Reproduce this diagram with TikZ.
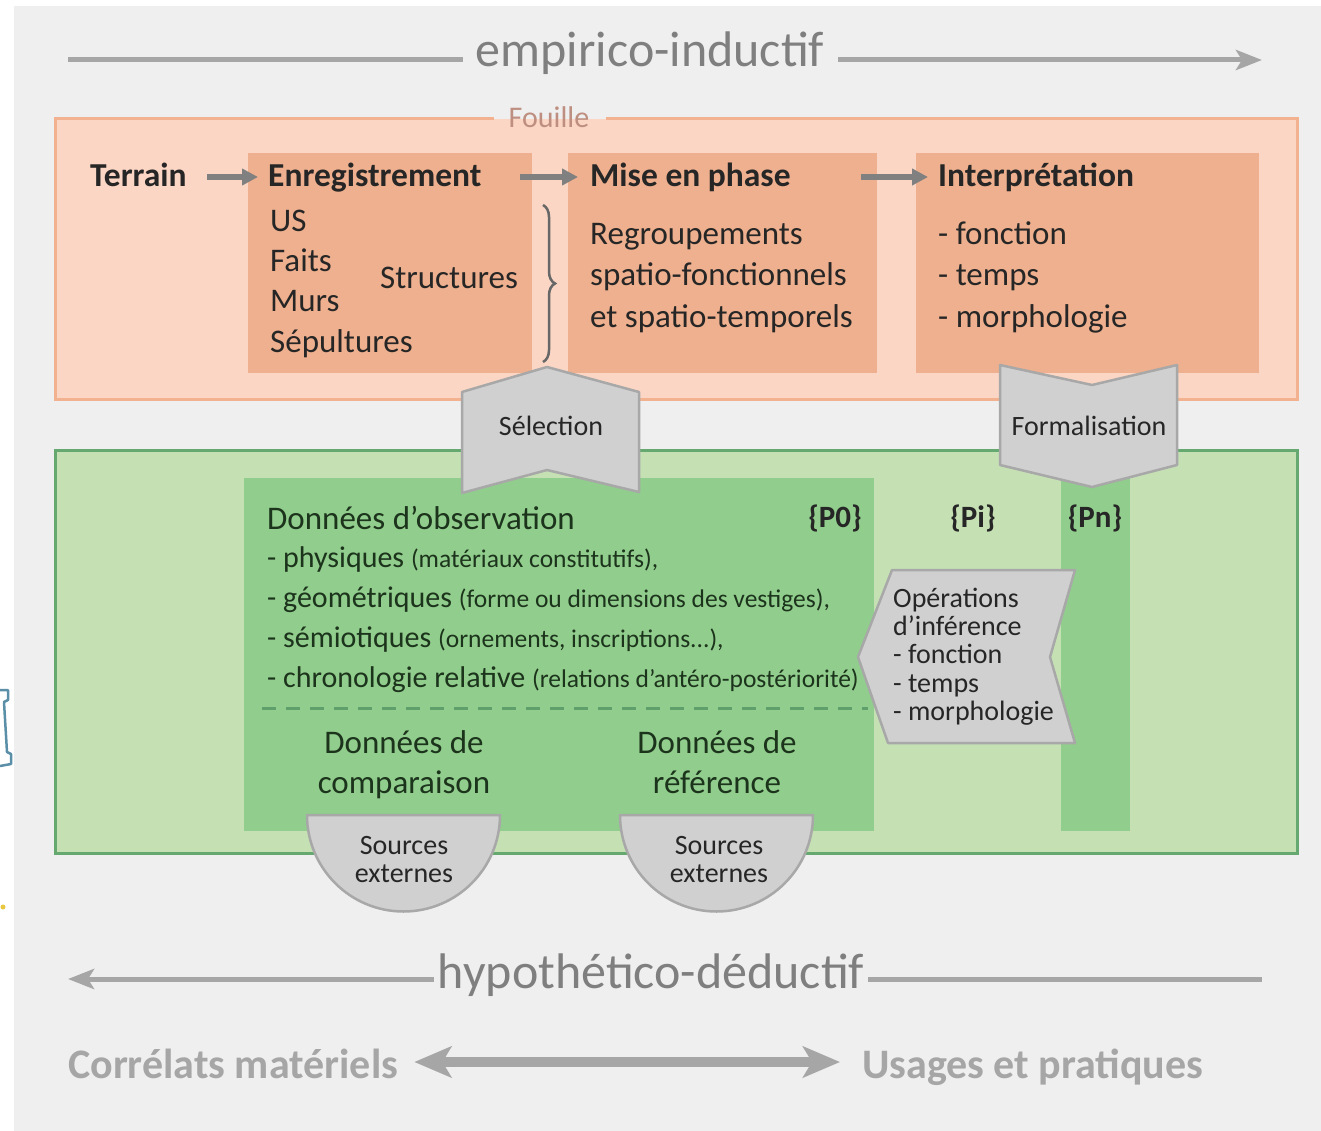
\documentclass[tikz,border=0pt]{standalone}
\usepackage{fontspec}
\setmainfont{Carlito}
\usetikzlibrary{arrows.meta,decorations.pathreplacing}
\definecolor{bggray}{HTML}{EFEFEF}
\definecolor{fouillefill}{HTML}{FBD6C4}
\definecolor{fouilleline}{HTML}{F2B28F}
\definecolor{salmon}{HTML}{EEB08E}
\definecolor{fouilletxt}{HTML}{BE8F80}
\definecolor{greenfill}{HTML}{C5E1B4}
\definecolor{greenline}{HTML}{66A970}
\definecolor{greeninner}{HTML}{91CD8C}
\definecolor{greentxt}{HTML}{1C331C}
\definecolor{darktxt}{HTML}{262626}
\definecolor{shapefill}{HTML}{D0D0D1}
\definecolor{shapeline}{HTML}{A8A8A8}
\definecolor{lightline}{HTML}{A6A6A6}
\definecolor{midgray}{HTML}{7F7F7F}
\definecolor{arrowgray}{HTML}{808080}
\definecolor{dashgreen}{HTML}{5E9F6B}
\definecolor{iconblue}{HTML}{5B8FA8}
\definecolor{iconyellow}{HTML}{E8C840}
\newcommand\fsz[1]{\fontsize{#1}{#1}\selectfont}
\begin{document}
\begin{tikzpicture}[x=1pt,y=-1pt,
  txt/.style={inner sep=0pt, anchor=base west, text=darktxt},
  ctxt/.style={inner sep=0pt, anchor=base, text=darktxt},
  gtxt/.style={inner sep=0pt, anchor=base west, text=greentxt},
  gctxt/.style={inner sep=0pt, anchor=base, text=greentxt},
  title/.style={txt, font=\fsz{33.5}\bfseries},
  body/.style={txt, font=\fsz{33}},
  farrow/.style={draw=arrowgray, line width=6pt, -{Triangle[length=16pt,width=16pt]}},
  gline/.style={draw=lightline, line width=5pt},
  grayshape/.style={fill=shapefill, draw=shapeline, line width=2.5pt, line join=round},
  bigtxt/.style={inner sep=0pt, anchor=base, text=midgray, font=\fsz{50}},
  optxt/.style={txt, font=\fsz{28}},
  itemtxt/.style={gtxt, font=\fsz{30}},
]
\useasboundingbox (0,0) rectangle (1321,1131);
\fill[white] (0,0) rectangle (1321,1131);
\fill[bggray] (14,6) rectangle (1321,1131);
% cut-off marks at the left edge
\draw[iconblue, line width=2.5pt, line join=round] (0,690) -- (8,690) -- (8,700) -- (4,702) -- (7,752) -- (11,754) -- (11,764) -- (0,766);
\fill[iconyellow] (3,907) circle[radius=2.5pt];

% top arrow
\node[bigtxt] (emp) at (650,67) {empirico-inductif};
\coordinate (empL) at (68,60);
\coordinate (empR) at (1262,60);
\draw[gline, shorten >=13pt] (empL) -- (emp.west |- empL);
\draw[gline, shorten <=14pt, -{Stealth[length=26pt,width=20pt,inset=6pt]}] (emp.east |- empR) -- (empR);

% Fouille
\fill[fouillefill] (55,119) rectangle (1297,399);
\node[inner sep=0pt, anchor=base, text=fouilletxt, font=\fsz{30}] (fouille) at (549,128) {Fouille};
\coordinate (fl) at (494,119);
\coordinate (fr) at (606,119);
\draw[fouilleline, line width=3pt] (fl) -- (55,119) -- (55,399) -- (1297,399) -- (1297,119) -- (fr);
\fill[salmon] (248,153) rectangle (532,373);
\fill[salmon] (568,153) rectangle (877,373);
\fill[salmon] (916,153) rectangle (1259,373);

\node[title] (terrain) at (90,187) {Terrain};
\node[title] (enreg) at (268,187) {Enregistrement};
\node[title] (mise) at (590,187) {Mise en phase};
\node[title] (interp) at (938,187) {Interprétation};
\draw[farrow, shorten <=20pt, shorten >=10pt] ([yshift=10pt]terrain.base east) -- ([yshift=10pt]enreg.base west);
\draw[farrow, shorten <=38pt, shorten >=12pt] ([yshift=10pt]enreg.base east) -- ([yshift=10pt]mise.base west);
\draw[farrow, shorten <=70pt, shorten >=10pt] ([yshift=10pt]mise.base east) -- ([yshift=10pt]interp.base west);

\node[body] (us) at (270,232) {US};
\node[body] (faits) at (270,272) {Faits};
\node[body] (murs) at (270,312) {Murs};
\node[body] (sep) at (270,352) {Sépultures};
\node[body] (struct) at (380,288) {Structures};
\coordinate (braceT) at (543,205);
\coordinate (braceB) at (543,362);
\draw[draw=darktxt!70, line width=2.5pt, decorate, decoration={brace, amplitude=12pt}] (braceT) -- (braceB);

\node[body] (reg1) at (590,245) {Regroupements};
\node[body] (reg2) at (590,286) {spatio-fonctionnels};
\node[body] (reg3) at (590,327) {et spatio-temporels};

\node[body] (int1) at (938,245) {- fonction};
\node[body] (int2) at (938,286) {- temps};
\node[body] (int3) at (938,327) {- morphologie};

% green area
\fill[greenfill] (55,450) rectangle (1297,853);
\draw[greenline, line width=3pt] (55,450) rectangle (1297,853);
\fill[greeninner] (244,478) rectangle (874,831);
\fill[greeninner] (1061,478) rectangle (1130,831);

\node[gtxt, font=\fsz{33}] (obs) at (267,529) {Données d’observation};
\node[ctxt, font=\fsz{31}\bfseries] (p0) at (835,527) {\{P0\}};
\node[ctxt, font=\fsz{31}\bfseries] (pi) at (973,527) {\{Pi\}};
\node[ctxt, font=\fsz{31}\bfseries] (pn) at (1095,527) {\{Pn\}};

\node[itemtxt] (l1) at (267,567) {- physiques {\fsz{25.5}(matériaux constitutifs),}};
\node[itemtxt] (l2) at (267,607) {- géométriques {\fsz{25.5}(forme ou dimensions des vestiges),}};
\node[itemtxt] (l3) at (267,647) {- sémiotiques {\fsz{25.5}(ornements, inscriptions...),}};
\node[itemtxt] (l4) at (267,687) {- chronologie relative {\fsz{25.5}(relations d’antéro-postériorité)}};
\coordinate (dashL) at (262,708);
\coordinate (dashR) at (868,708);
\draw[dashgreen, line width=3pt, dash pattern=on 14pt off 10pt] (dashL) -- (dashR);

\node[gctxt, font=\fsz{33}] (comp1) at (404,753) {Données de};
\node[gctxt, font=\fsz{33}] (comp2) at (404,793) {comparaison};
\node[gctxt, font=\fsz{33}] (ref1) at (717,753) {Données de};
\node[gctxt, font=\fsz{33}] (ref2) at (717,793) {référence};

% sources externes bowls
\draw[grayshape] (307,815) arc[start angle=180, end angle=360, radius=96.5pt] -- cycle;
\draw[grayshape] (620,815) arc[start angle=180, end angle=360, radius=96.5pt] -- cycle;
\node[ctxt, font=\fsz{28}] (s1a) at (404,854) {Sources};
\node[ctxt, font=\fsz{28}] (s1b) at (404,882) {externes};
\node[ctxt, font=\fsz{28}] (s2a) at (719,854) {Sources};
\node[ctxt, font=\fsz{28}] (s2b) at (719,882) {externes};

% operations
\draw[grayshape] (892,570) -- (1075,570) -- (1050,657) -- (1075,743) -- (888,743) -- (858,657) -- cycle;
\node[optxt] (op1) at (893,607) {Opérations};
\node[optxt] (op2) at (893,635) {d’inférence};
\node[optxt] (op3) at (893,663) {- fonction};
\node[optxt] (op4) at (893,692) {- temps};
\node[optxt] (op5) at (893,720) {- morphologie};

% selection / formalisation
\draw[grayshape] (462,392) -- (547,367) -- (639,392) -- (639,492) -- (547,470) -- (462,493) -- cycle;
\node[ctxt, font=\fsz{28}] (selection) at (551,435) {Sélection};
\draw[grayshape] (1000,365) -- (1092,385) -- (1177,365) -- (1177,465) -- (1092,487) -- (1000,465) -- cycle;
\node[ctxt, font=\fsz{28}] (formal) at (1089,435) {Formalisation};

% bottom arrow
\node[bigtxt] (hyp) at (651,988) {hypothético-déductif};
\coordinate (hypL) at (68,979);
\coordinate (hypR) at (1262,979);
\draw[gline, shorten <=4pt, -{Stealth[length=26pt,width=20pt,inset=6pt]}] (hyp.west |- hypL) -- (hypL);
\draw[gline, shorten <=4pt] (hyp.east |- hypR) -- (hypR);

% correlats / usages
\node[inner sep=0pt, anchor=base west, text=lightline, font=\fsz{42}\bfseries] (corr) at (68,1078) {Corrélats matériels};
\node[inner sep=0pt, anchor=base west, text=lightline, font=\fsz{42}\bfseries] (usages) at (862,1078) {Usages et pratiques};
\draw[draw=lightline, line width=10pt, {Stealth[length=37pt,width=31pt,inset=9pt]}-{Stealth[length=37pt,width=31pt,inset=9pt]}, shorten <=16pt, shorten >=22pt] ([yshift=16pt]corr.base east) -- ([yshift=16pt]usages.base west);
\end{tikzpicture}
\end{document}
